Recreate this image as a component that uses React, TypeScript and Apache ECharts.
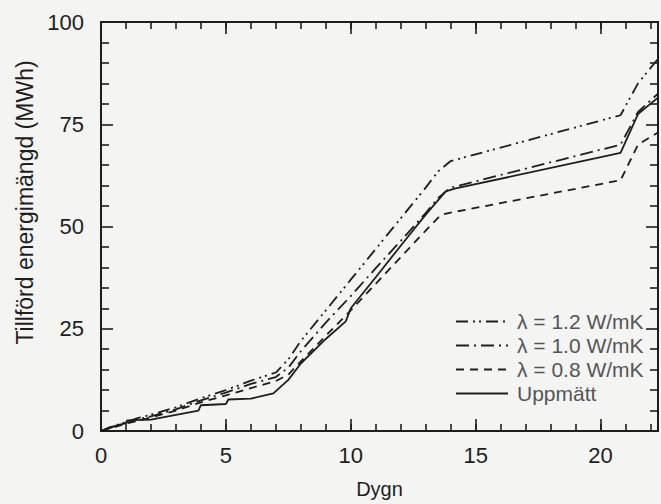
import React, { useEffect, useRef } from "react";
import * as echarts from "echarts";

// Day values (x) and supplied energy in MWh (y) for each curve
const lambda12Days = [0, 0.5, 1, 1.5, 2, 3, 4, 5, 6, 7, 7.5, 8, 9, 10, 11, 12, 13, 13.5, 14, 20.8, 21.5, 22.3];
const lambda12Vals = [0, 1.2, 2.2, 3.2, 4.0, 5.8, 8.0, 10.0, 12.3, 14.3, 17.5, 22, 29.5, 37, 44.5, 52, 59.5, 63.5, 66, 77.2, 85, 91];

const lambda10Days = [0, 0.5, 1, 1.5, 2, 3, 4, 5, 6, 7, 7.5, 8, 9, 10, 11, 12, 13, 13.5, 14, 20.8, 21.5, 22.3];
const lambda10Vals = [0, 1.0, 2.0, 2.9, 3.6, 5.3, 7.5, 9.4, 11.5, 13.2, 15.5, 19.5, 26.5, 33, 39.8, 46.5, 53.3, 57, 59.5, 70, 78, 82.5];

const lambda08Days = [0, 0.5, 1, 2, 3, 4, 5, 6, 7, 7.5, 8, 9, 10, 11, 12, 13, 13.6, 14, 20.8, 21.5, 22.3];
const lambda08Vals = [0, 0.9, 1.8, 3.3, 5.0, 7.0, 8.7, 10.5, 12.2, 13.8, 17, 23.3, 29.5, 36, 42.5, 49, 52.8, 53.4, 61.3, 70, 73];

const measuredDays = [0, 0.3, 1, 1.05, 2, 3.9, 4, 5, 5.1, 6, 6.9, 7.5, 8, 9, 9.8, 10, 11, 12, 13, 13.8, 14.2, 20.8, 21.5, 22.3];
const measuredVals = [0, 0.8, 1.9, 2.6, 2.8, 5.0, 6.3, 6.6, 7.7, 7.9, 9.2, 12.5, 16.5, 22.5, 26.8, 30, 37.6, 45.3, 52.9, 58.6, 59.3, 68, 77.5, 81.5];

const seriesNames = ["λ = 1.2 W/mK", "λ = 1.0 W/mK", "λ = 0.8 W/mK", "Uppmätt"];

const xMax = 22.3;
const ink = "#1e1e1e";
const bg = "#f4f4f2";
const font = "'Liberation Sans', Arial, Helvetica, sans-serif";

function pairs(xs: number[], ys: number[]) {
  return xs.map((x, i) => [x, ys[i]]);
}

function makeOption() {
  const axisLine = { show: true, onZero: false, lineStyle: { color: ink, width: 2 } };
  const noLine = { show: false, onZero: false };
  const minorT = { show: true, inside: true, length: 7, lineStyle: { color: ink, width: 1.6 } };
  const majorT = { show: true, inside: true, length: 12, lineStyle: { color: ink, width: 1.6 } };
  const xBase = { type: "value", min: 0, max: xMax, splitLine: { show: false } };
  const xAxes: any[] = [
    {
      ...xBase,
      position: "bottom",
      interval: 1,
      axisLine,
      axisTick: minorT,
      axisLabel: {
        show: true,
        margin: 13,
        color: ink,
        fontSize: 22,
        fontFamily: font,
        formatter: (val: number) => (Math.abs(val % 5) < 1e-9 ? String(val) : ""),
      },
      name: "Dygn",
      nameLocation: "middle",
      nameGap: 48,
      nameTextStyle: { fontSize: 20 },
    },
    { ...xBase, position: "bottom", interval: 5, axisLine: noLine, axisTick: majorT, axisLabel: { show: false } },
    { ...xBase, position: "top", interval: 1, axisLine, axisTick: minorT, axisLabel: { show: false } },
    { ...xBase, position: "top", interval: 5, axisLine: noLine, axisTick: majorT, axisLabel: { show: false } },
    // data axis for the curves (not drawn)
    { ...xBase, position: "bottom", show: false },
  ];
  const yAxes: any[] = [
    {
      type: "value",
      position: "left",
      min: 0,
      max: 100,
      interval: 25,
      splitLine: { show: false },
      axisLine,
      axisTick: majorT,
      axisLabel: { show: true, margin: 17, color: ink, fontSize: 22, fontFamily: font },
      minorTick: { show: true, splitNumber: 5, length: 8, lineStyle: { color: ink, width: 1.6 } },
      name: "Tillförd energimängd (MWh)",
      nameLocation: "middle",
      nameGap: 63,
      nameTextStyle: { fontSize: 23, padding: [0, 0, 0, 48] },
    },
    {
      type: "value",
      position: "right",
      min: 0,
      max: 100,
      interval: 25,
      splitLine: { show: false },
      axisLine,
      axisTick: majorT,
      minorTick: { show: true, splitNumber: 5, length: 8, lineStyle: { color: ink, width: 1.6 } },
      axisLabel: { show: false },
    },
    // data axis for the curves (not drawn)
    { type: "value", position: "left", min: 0, max: 100, show: false, splitLine: { show: false } },
  ];
  const dashes: any[] = [[12, 5, 2, 4, 2, 5], [13, 5, 2, 5], [8, 6], "solid"];
  const xsList = [lambda12Days, lambda10Days, lambda08Days, measuredDays];
  const ysList = [lambda12Vals, lambda10Vals, lambda08Vals, measuredVals];
  return {
    animation: false,
    backgroundColor: bg,
    textStyle: { color: ink, fontFamily: font },
    grid: { show: true, left: 101, right: 2, top: 22, bottom: 69, borderColor: ink, borderWidth: 2, backgroundColor: "transparent" },
    xAxis: xAxes,
    yAxis: yAxes,
    legend: {
      orient: "vertical",
      left: 450,
      top: 306,
      itemWidth: 52,
      itemHeight: 14,
      itemGap: 3,
      itemStyle: { opacity: 0 },
      textStyle: { fontSize: 21, lineHeight: 20, padding: [0, 0, 0, 4] },
      data: seriesNames,
    },
    series: seriesNames.map((name, k) => ({
      name,
      type: "line",
      xAxisIndex: 4,
      yAxisIndex: 2,
      data: pairs(xsList[k], ysList[k]),
      symbol: "none",
      color: ink,
      lineStyle: { color: ink, width: 1.8, type: dashes[k] },
    })),
  };
}

export default function App() {
  const ref = useRef<HTMLDivElement>(null);
  useEffect(() => {
    if (!ref.current) return;
    const chart = echarts.init(ref.current, undefined, { renderer: "svg" });
    chart.setOption(makeOption());
    return () => chart.dispose();
  }, []);
  return (
    <div style={{ position: "fixed", left: 0, top: 0, width: 661, height: 504, background: bg }}>
      <div ref={ref} style={{ width: 661, height: 504 }} />
    </div>
  );
}
